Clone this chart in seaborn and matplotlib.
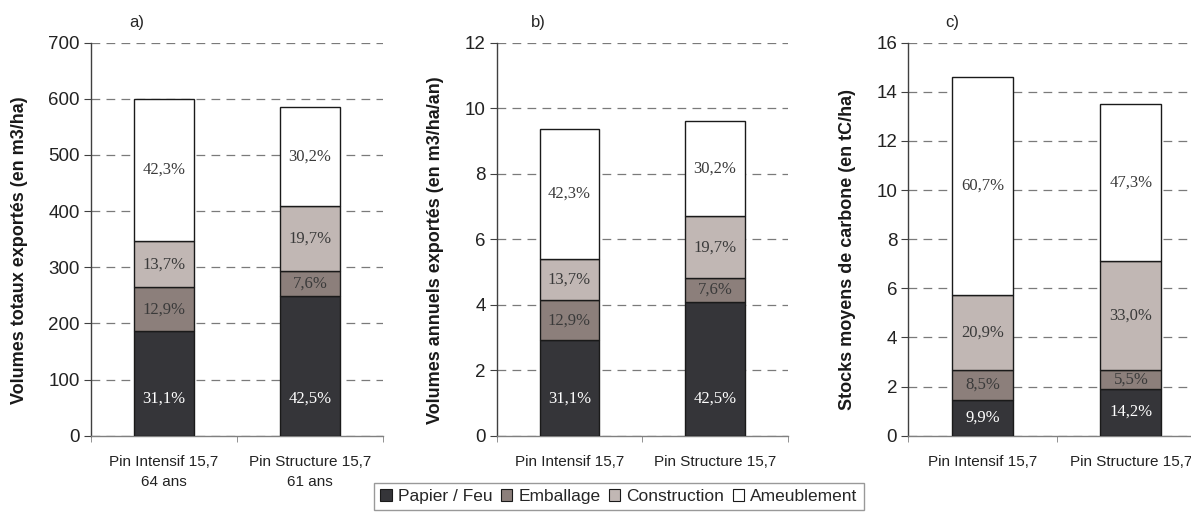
import matplotlib
matplotlib.use("Agg")
import matplotlib.pyplot as plt
from matplotlib.patches import Patch
from matplotlib.ticker import MultipleLocator, FixedLocator
import seaborn as sns
import pandas as pd

# data
usages = ["Papier / Feu", "Emballage", "Construction", "Ameublement"]
colors = ["#353539", "#8c7f7b", "#c1b7b4", "#ffffff"]
scenarios = ["Pin Intensif 15,7", "Pin Structure 15,7"]
ages = ["64 ans", "61 ans"]

vol_totaux = {"Pin Intensif 15,7": [186.6, 77.4, 82.2, 253.8],
              "Pin Structure 15,7": [248.6, 44.5, 115.2, 176.7]}
vol_annuels = {"Pin Intensif 15,7": [2.92, 1.21, 1.28, 3.97],
               "Pin Structure 15,7": [4.08, 0.73, 1.89, 2.90]}
stocks_c = {"Pin Intensif 15,7": [1.45, 1.24, 3.05, 8.86],
            "Pin Structure 15,7": [1.92, 0.74, 4.46, 6.39]}

pct_vol = {"Pin Intensif 15,7": ["31,1%", "12,9%", "13,7%", "42,3%"],
           "Pin Structure 15,7": ["42,5%", "7,6%", "19,7%", "30,2%"]}
pct_c = {"Pin Intensif 15,7": ["9,9%", "8,5%", "20,9%", "60,7%"],
         "Pin Structure 15,7": ["14,2%", "5,5%", "33,0%", "47,3%"]}

sns.set_style("white")
plt.rcParams['font.family'] = ['Liberation Sans', 'DejaVu Sans']

W, H = 1191, 514
fig = plt.figure(figsize=(W / 100, H / 100), dpi=100)


def panel(left_px, width_px, values, pcts, ymax, ystep, ylabel, letter, letter_x, ylabel_x, xlabels):
    ax = fig.add_axes([left_px / W, 78.3 / H, width_px / W, 393 / H])
    df = pd.DataFrame(values, index=usages).T
    df["scenario"] = df.index
    bottom = [0.0, 0.0]
    for i, u in enumerate(usages):
        sns.barplot(data=df, x="scenario", y=u, color=colors[i], width=0.41,
                    bottom=bottom, edgecolor="#1a1a1a", linewidth=1.0,
                    saturation=1, ax=ax, zorder=3)
        for j, s in enumerate(scenarios):
            v = values[s][i]
            mid = bottom[j] + v / 2
            if i == 0:
                mid = min(mid, 0.095 * ymax)
            ax.text(j, mid, pcts[s][i], ha="center", va="center",
                    family="Liberation Serif", fontsize=12,
                    color="white" if i == 0 else "#3a3a3a", zorder=5)
        bottom = [bottom[k] + values[s][i] for k, s in enumerate(scenarios)]

    ax.set_xlim(-0.5, 1.5)
    ax.set_ylim(0, ymax)
    ax.yaxis.set_major_locator(MultipleLocator(ystep))
    ax.yaxis.grid(True, color="#7a7a7a", linestyle=(0, (7, 5)), linewidth=0.9, zorder=0)
    ax.xaxis.grid(False)
    ax.set_axisbelow(True)
    for sp in ["top", "right"]:
        ax.spines[sp].set_visible(False)
    ax.spines["left"].set_color("#404040")
    ax.spines["bottom"].set_color("#808080")
    ax.spines["left"].set_linewidth(1.0)
    ax.spines["bottom"].set_linewidth(1.0)

    ax.set_xticks([0, 1])
    ax.set_xticklabels(xlabels, fontsize=11, color="#222222", linespacing=1.5)
    ax.xaxis.set_minor_locator(FixedLocator([-0.5, 0.5, 1.5]))
    ax.tick_params(axis="x", which="major", length=0, pad=14)
    ax.tick_params(axis="x", which="minor", length=4, direction="out", color="#808080", bottom=True)
    ax.tick_params(axis="y", which="major", length=5, direction="out", color="#404040",
                   labelsize=13.5, labelcolor="#222222", left=True, pad=3)
    ax.set_xlabel("")
    ax.set_ylabel("")
    fig.text(ylabel_x / W, (514 - 250) / H, ylabel, rotation=90, ha="center", va="center",
             fontsize=13, fontweight="bold", color="#1a1a1a")
    fig.text(letter_x / W, (514 - 23) / H, letter, ha="center", va="center", fontsize=12)
    return ax


xl_a = [s + "\n" + a for s, a in zip(scenarios, ages)]
panel(91, 292, vol_totaux, pct_vol, 700, 100, "Volumes totaux exportés (en m3/ha)", "a)", 137, 20, xl_a)
panel(496.7, 291, vol_annuels, pct_vol, 12, 2, "Volumes annuels exportés (en m3/ha/an)", "b)", 538, 435, scenarios)
panel(908.3, 296.8, stocks_c, pct_c, 16, 2, "Stocks moyens de carbone (en tC/ha)", "c)", 952, 847, scenarios)

handles = [Patch(facecolor=c, edgecolor="#1a1a1a", linewidth=0.8) for c in colors]
leg = fig.legend(handles, usages, loc="upper center", bbox_to_anchor=(619 / W, (514 - 483) / H),
                 ncol=4, frameon=True, fancybox=False, fontsize=12.5, handlelength=0.65,
                 handleheight=0.65, handletextpad=0.35, columnspacing=0.5, borderpad=0.35,
                 borderaxespad=0)
leg.get_frame().set_edgecolor("#808080")
leg.get_frame().set_linewidth(1.0)

fig.savefig("out.png", dpi=100)
